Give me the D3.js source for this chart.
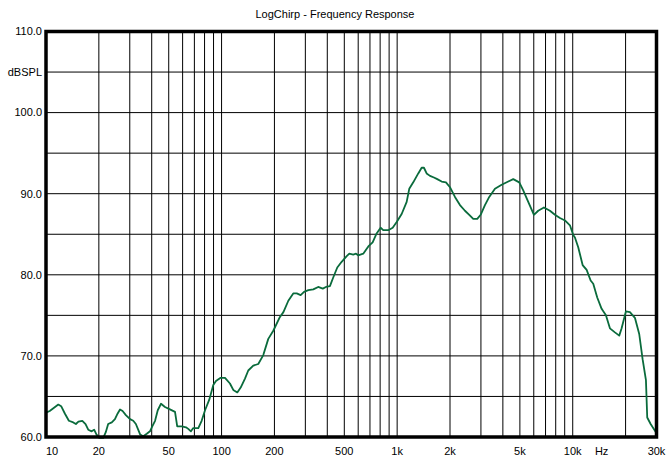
<!DOCTYPE html>
<html>
<head>
<meta charset="utf-8">
<script src="https://cdn.jsdelivr.net/npm/d3@7"></script>
<style>
  html, body { margin: 0; padding: 0; background: #fff; }
  svg { display: block; }
  text { font-family: "Liberation Sans", Arial, Helvetica, sans-serif; fill: #000; }
</style>
</head>
<body>
<svg id="chart" width="671" height="461"></svg>
<script>
// ---- data ----
const titleText = "LogChirp - Frequency Response";
const freqs = [10, 10.5, 11.75, 12.2, 12.8, 13.5, 14.3, 14.8, 15.3, 16.1, 16.8, 17.4, 18.2, 18.8, 19.4, 20.1, 21.2, 21.9, 22.6, 23.7, 24.7, 25.6, 26.4, 27.3, 28.5, 30.1, 31.4, 32.5, 33.5, 34.4, 35.8, 37.5, 39.1, 40.3, 41.8, 43.3, 45.2, 47.6, 50.8, 54.3, 55.9, 59.3, 62.7, 64.6, 66.9, 69.0, 73.7, 77.0, 80.5, 85.1, 89.7, 92.9, 98.8, 104.6, 111.6, 116.6, 122.9, 128.5, 135.9, 141.9, 151.5, 161.8, 172.8, 184.5, 197, 215, 225, 240, 256, 268, 282, 295, 312, 333, 355, 377, 393, 414, 433, 456, 483, 516, 534, 562, 583, 600, 641, 685, 725, 764, 805, 833, 890, 943, 994, 1061, 1133, 1172, 1235, 1319, 1379, 1421, 1472, 1538, 1620, 1692, 1792, 1897, 1999, 2134, 2279, 2433, 2574, 2713, 2859, 2989, 3162, 3346, 3606, 3937, 4294, 4583, 4959, 5225, 5580, 6012, 6360, 6855, 7417, 7917, 8456, 9030, 9641, 10067, 10293, 10747, 11387, 12003, 12648, 13088, 13790, 14607, 15456, 16288, 17391, 18400, 18989, 20091, 21170, 22605, 23917, 25003, 26119, 26567, 27776, 29772];
const spl = [63.0, 63.2, 64.0, 63.8, 62.9, 62.0, 61.8, 61.6, 61.9, 62.0, 61.6, 60.9, 60.7, 60.9, 60.3, 59.9, 59.9, 60.6, 61.6, 61.8, 62.2, 62.9, 63.4, 63.2, 62.7, 62.2, 62.0, 61.6, 60.9, 60.3, 60.1, 60.4, 60.7, 61.3, 62.0, 63.3, 64.1, 63.7, 63.4, 63.1, 61.3, 61.3, 61.2, 61.0, 60.7, 61.1, 61.1, 62.0, 63.3, 64.6, 66.4, 66.9, 67.3, 67.3, 66.6, 65.8, 65.5, 66.1, 67.2, 68.2, 68.8, 69.0, 70.1, 72.1, 73.1, 74.8, 75.4, 76.8, 77.7, 77.7, 77.5, 77.9, 78.1, 78.2, 78.5, 78.3, 78.5, 78.6, 79.7, 80.9, 81.6, 82.3, 82.6, 82.5, 82.6, 82.4, 82.6, 83.5, 84.0, 85.1, 85.8, 85.5, 85.5, 85.8, 86.5, 87.5, 89.0, 90.6, 91.4, 92.5, 93.2, 93.2, 92.5, 92.2, 92.0, 91.8, 91.5, 91.4, 90.8, 89.6, 88.6, 87.9, 87.4, 86.9, 86.9, 87.4, 88.6, 89.6, 90.6, 91.1, 91.5, 91.8, 91.4, 90.4, 89.0, 87.4, 87.9, 88.3, 87.9, 87.4, 87.0, 86.7, 86.1, 84.9, 84.6, 83.4, 81.2, 80.6, 79.3, 78.9, 77.2, 75.8, 75.0, 73.4, 72.9, 72.5, 73.4, 75.5, 75.4, 74.7, 72.7, 69.6, 67.0, 62.4, 61.6, 60.6];
const xTickValues = [10, 20, 50, 100, 200, 500, 1000, 2000, 5000, 10000, 30000];
const xTickLabels = ["10", "20", "50", "100", "200", "500", "1k", "2k", "5k", "10k", "30k"];
const xGridValues = [20, 30, 40, 50, 60, 70, 80, 90, 100, 200, 300, 400, 500, 600, 700, 800, 900, 1000, 2000, 3000, 4000, 5000, 6000, 7000, 8000, 9000, 10000, 20000];
const yTickValues = [60, 70, 80, 90, 100, 110];
const yTickLabels = ["60.0", "70.0", "80.0", "90.0", "100.0", "110.0"];
const yGridValues = [65, 70, 75, 80, 85, 90, 95, 100, 105];
const yUnitLabel = "dBSPL";
const xUnitLabel = "Hz";

// ---- layout ----
const svg = d3.select("#chart");
const x = d3.scaleLog().domain([10, 30000]).range([46, 656.5]);
const y = d3.scaleLinear().domain([60, 110]).range([437, 31.5]);

// title
svg.append("text").attr("x", 335).attr("y", 18).attr("text-anchor", "middle")
  .style("font-size", "11px").text(titleText);

// grid lines
svg.append("g").selectAll("line").data(xGridValues).join("line")
  .attr("x1", d => x(d)).attr("x2", d => x(d))
  .attr("y1", y(110)).attr("y2", y(60))
  .attr("stroke", "#000").attr("stroke-width", 1);
svg.append("g").selectAll("line").data(yGridValues).join("line")
  .attr("x1", x(10)).attr("x2", x(30000))
  .attr("y1", d => y(d)).attr("y2", d => y(d))
  .attr("stroke", "#000").attr("stroke-width", 1);

// curve
const line = d3.line().x((d, i) => x(freqs[i])).y(d => y(d)).curve(d3.curveLinear);
svg.append("path").datum(spl).attr("d", line)
  .attr("fill", "none").attr("stroke", "#0a6b3c").attr("stroke-width", 1.8)
  .attr("stroke-linejoin", "round");

// frame
svg.append("rect").attr("x", x(10)).attr("y", y(110))
  .attr("width", x(30000) - x(10)).attr("height", y(60) - y(110))
  .attr("fill", "none").attr("stroke", "#000").attr("stroke-width", 3.5);

// y tick labels
svg.append("g").selectAll("text").data(yTickValues).join("text")
  .attr("x", 42).attr("y", d => y(d)).attr("dy", "0.35em")
  .attr("text-anchor", "end").style("font-size", "11px")
  .text((d, i) => yTickLabels[i]);
svg.append("text").attr("x", 42).attr("y", y(105)).attr("dy", "0.35em")
  .attr("text-anchor", "end").style("font-size", "11px").text(yUnitLabel);

// x tick labels
svg.append("g").selectAll("text").data(xTickValues).join("text")
  .attr("x", (d, i) => i === 0 ? x(d) + 6 : x(d))
  .attr("y", 455)
  .attr("text-anchor", "middle").style("font-size", "11px")
  .text((d, i) => xTickLabels[i]);
svg.append("text").attr("x", x(15000) - 2).attr("y", 455)
  .attr("text-anchor", "middle").style("font-size", "11px").text(xUnitLabel);
</script>
</body>
</html>
